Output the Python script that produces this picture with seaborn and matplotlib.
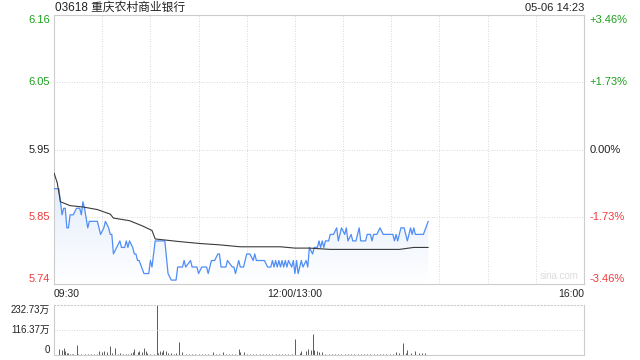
import numpy as np
import pandas as pd
import matplotlib
matplotlib.use('Agg')
import matplotlib.pyplot as plt
import seaborn as sns
from matplotlib.patches import Polygon
from matplotlib.colors import LinearSegmentedColormap

# minutes since 09:30 (lunch break removed, 12:00/13:00 = 150)
price_min = [0, 3, 4, 5, 6, 7, 8, 9, 10, 12, 14, 16, 17, 18, 19, 21, 22, 27, 29, 31,
             32, 34, 35, 36, 37, 39, 41, 42, 44, 45, 46, 47, 49, 50, 51, 52, 53, 56, 59, 60,
             61, 63, 69, 71, 73, 76, 77, 80, 81, 82, 85, 86, 89, 90, 92, 95, 96, 98, 100, 102,
             103, 104, 107, 108, 111, 112, 113, 115, 116, 118, 120, 122, 124, 125, 126, 131, 133, 135, 136, 137,
             138, 139, 140, 141, 142, 143, 144, 145, 146, 148, 149, 150, 151, 152, 154, 155, 157, 158, 159, 161,
             162, 164, 165, 166, 167, 168, 169, 171, 172, 174, 176, 177, 179, 181, 182, 183, 185, 186, 188, 190,
             191, 194, 195, 197, 198, 199, 201, 203, 205, 211, 212, 213, 214, 216, 218, 220, 222, 223, 224, 225,
             230, 233]
price = [5.89, 5.89, 5.87, 5.85, 5.86, 5.86, 5.83, 5.83, 5.85, 5.85, 5.86, 5.86, 5.85, 5.87, 5.86, 5.83, 5.84, 5.84, 5.82, 5.83,
         5.84, 5.83, 5.82, 5.82, 5.79, 5.80, 5.81, 5.80, 5.80, 5.81, 5.80, 5.81, 5.80, 5.79, 5.79, 5.78, 5.78, 5.76, 5.76, 5.78,
         5.77, 5.81, 5.81, 5.76, 5.75, 5.75, 5.77, 5.77, 5.78, 5.77, 5.78, 5.77, 5.77, 5.76, 5.77, 5.77, 5.76, 5.78, 5.78, 5.79,
         5.79, 5.77, 5.77, 5.78, 5.77, 5.77, 5.76, 5.78, 5.77, 5.77, 5.79, 5.79, 5.78, 5.79, 5.78, 5.78, 5.77, 5.77, 5.78, 5.77,
         5.78, 5.77, 5.78, 5.77, 5.78, 5.77, 5.78, 5.77, 5.78, 5.77, 5.78, 5.76, 5.78, 5.76, 5.78, 5.77, 5.78, 5.77, 5.80, 5.79,
         5.80, 5.80, 5.81, 5.80, 5.81, 5.80, 5.81, 5.81, 5.82, 5.82, 5.83, 5.81, 5.83, 5.82, 5.83, 5.81, 5.82, 5.81, 5.81, 5.83,
         5.81, 5.81, 5.82, 5.82, 5.81, 5.82, 5.82, 5.83, 5.82, 5.82, 5.81, 5.82, 5.81, 5.83, 5.83, 5.81, 5.83, 5.82, 5.83, 5.82,
         5.82, 5.84]

avg_min = [0, 2, 4, 10, 18, 27, 35, 37, 47, 55, 61, 63, 78, 91, 103, 116, 141, 150, 159, 172, 215, 224, 233]
avg_price = [5.914, 5.899, 5.870, 5.864, 5.862, 5.858, 5.851, 5.845, 5.841, 5.833, 5.826, 5.813, 5.809, 5.806,
             5.804, 5.801, 5.801, 5.799, 5.799, 5.797, 5.797, 5.800, 5.800]

# volume in 万 shares
vol_min = [3, 5, 6, 7, 8, 9, 10, 11, 12, 14, 15, 17, 19, 21, 23, 25, 27, 28, 30, 31,
           33, 35, 36, 38, 40, 41, 43, 45, 46, 48, 49, 50, 52, 53, 55, 56, 57, 58, 60, 62,
           64, 65, 66, 67, 68, 70, 71, 73, 75, 76, 78, 80, 82, 84, 86, 88, 90, 92, 94, 96,
           99, 101, 103, 105, 107, 109, 111, 113, 115, 116, 118, 120, 122, 124, 126, 128, 130, 132, 134, 136,
           138, 140, 142, 144, 146, 148, 150, 153, 154, 157, 158, 160, 161, 162, 164, 165, 167, 169, 171, 173,
           175, 177, 179, 181, 183, 185, 187, 189, 191, 193, 195, 197, 199, 201, 203, 205, 207, 209, 211, 213,
           215, 217, 219, 220, 222, 225, 227, 229, 231]
vol = [28, 23, 31, 19, 11, 8, 6, 5, 5, 46.5, 6, 5, 4, 6, 4, 5, 4, 19, 15, 19,
       15, 43, 11, 34, 6, 8, 5, 6, 5, 8, 15, 28, 12, 19, 15, 34, 19, 11, 6, 5,
       232.73, 8, 19, 12, 23, 19, 11, 8, 6, 8, 62, 12, 5, 6, 4, 5, 4, 6, 4, 5,
       15, 5, 4, 12, 5, 4, 6, 4, 28, 15, 12, 5, 4, 5, 4, 3, 4, 3, 4, 3,
       4, 3, 4, 3, 4, 5, 73, 11, 19, 19, 27, 22, 100, 22, 19, 14, 16, 5, 4, 6,
       4, 5, 3, 4, 5, 3, 4, 3, 4, 5, 3, 4, 3, 4, 5, 3, 4, 3, 4, 14,
       9, 58, 9, 23, 11, 19, 11, 9, 8]

y_levels = [6.156, 6.053, 5.95, 5.847, 5.744]
y_labels = ['6.16', '6.05', '5.95', '5.85', '5.74']
pct_labels = ['+3.46%', '+1.73%', '0.00%', '-1.73%', '-3.46%']
time_labels = ['09:30', '12:00/13:00', '16:00']
vol_labels = ['232.73万', '116.37万', '0']
title = '03618 重庆农村商业银行'
stamp = '05-06 14:23'

sns.set_style('white')
plt.rcParams['font.family'] = ['Liberation Sans', 'Noto Sans CJK SC', 'DejaVu Sans']

GREEN = '#1ca01c'
RED = '#f03c3c'
GRID = '#cccccc'
DOT = (0, (1, 2))
label_colors = [GREEN, GREEN, '#222222', RED, RED]

fig = plt.figure(figsize=(6.4, 3.6), dpi=100)
ax = fig.add_axes([0.0844, 0.2111, 0.8281, 0.7472])
axv = fig.add_axes([0.0844, 0.0139, 0.8281, 0.1389])

df = pd.DataFrame({'t': price_min, 'p': price})
dfa = pd.DataFrame({'t': avg_min, 'p': avg_price})

ymin, ymax = y_levels[-1], y_levels[0]

# gradient fill under price line
verts = [(price_min[0], ymin)] + list(zip(price_min, price)) + [(price_min[-1], ymin)]
poly = Polygon(verts, closed=True, facecolor='none', edgecolor='none')
ax.add_patch(poly)
grad = np.linspace(1, 0, 256).reshape(-1, 1)
cmap = LinearSegmentedColormap.from_list('fill', ['#ffffff', '#e4edfc'])
im = ax.imshow(grad, extent=[0, max(price_min), ymin, max(price)], aspect='auto',
               cmap=cmap, origin='upper', zorder=1)
im.set_clip_path(poly)

sns.lineplot(ax=ax, data=df, x='t', y='p', color='#4f8ef5', linewidth=0.9, estimator=None, zorder=3)
sns.lineplot(ax=ax, data=dfa, x='t', y='p', color='#3a3a3a', linewidth=0.8, estimator=None, zorder=3)

ax.set_xlim(0, 330)
ax.set_ylim(ymin, ymax)
ax.set_xlabel('')
ax.set_ylabel('')
ax.set_xticks([])
ax.set_yticks([])
for v in y_levels[1:-1]:
    ax.axhline(v, color=GRID, linestyle=DOT, linewidth=0.6, zorder=0)
for m in range(30, 330, 30):
    ax.axvline(m, color=GRID, linestyle=DOT, linewidth=0.6, zorder=0)
for s in ax.spines.values():
    s.set_color(GRID)
    s.set_linewidth(0.8)

trans = matplotlib.transforms.blended_transform_factory(ax.transAxes, ax.transData)
vas = ['top', 'center', 'center', 'center', 'bottom']
for v, lab, pct, c, va in zip(y_levels, y_labels, pct_labels, label_colors, vas):
    ax.text(-0.008, v, lab, transform=trans, ha='right', va=va, color=c, fontsize=8)
    ax.text(1.011, v, pct, transform=trans, ha='left', va=va, color=c, fontsize=8)

ax.text(0.0, -0.037, time_labels[0], transform=ax.transAxes, ha='left', va='center', fontsize=7.5, color='#222222')
ax.text(150 / 330, -0.037, time_labels[1], transform=ax.transAxes, ha='center', va='center', fontsize=7.5, color='#222222')
ax.text(1.0, -0.037, time_labels[2], transform=ax.transAxes, ha='right', va='center', fontsize=7.5, color='#222222')
ax.text(0.99, 0.01, 'sina.com', transform=ax.transAxes, ha='right', va='bottom', fontsize=7, color='#dcdcdc')

fig.text(0.0859, 0.978, title, ha='left', va='center', fontsize=8.5, color='#222222')
fig.text(0.9125, 0.978, stamp, ha='right', va='center', fontsize=8, color='#222222')

# volume panel
axv.vlines(vol_min, 0, vol, color='#5a5a5a', linewidth=0.7)
axv.set_xlim(0, 330)
axv.set_ylim(0, 232.73)
axv.set_xticks([])
axv.set_yticks([])
axv.axhline(116.37, color=GRID, linestyle=DOT, linewidth=0.6)
for s in axv.spines.values():
    s.set_color(GRID)
    s.set_linewidth(0.8)
axv.spines['top'].set_linestyle(DOT)
transv = matplotlib.transforms.blended_transform_factory(axv.transAxes, axv.transData)
for v, lab, va in zip([232.73, 116.37, 0], vol_labels, ['top', 'center', 'bottom']):
    axv.text(-0.008, v, lab, transform=transv, ha='right', va=va, fontsize=7, color='#222222')

fig.savefig('out.png', dpi=100)
